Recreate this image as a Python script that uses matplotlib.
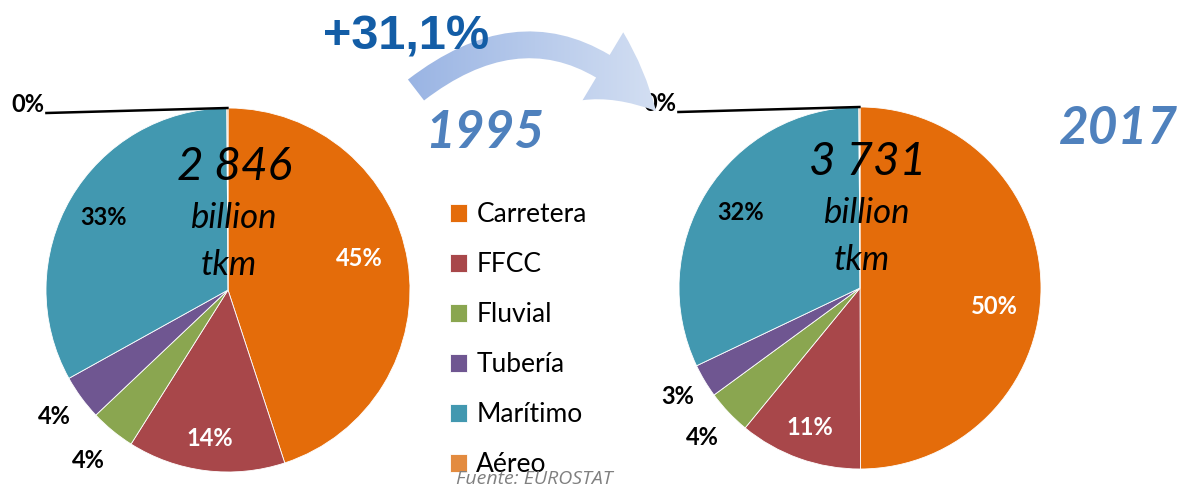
import numpy as np
import matplotlib.pyplot as plt
from matplotlib.patches import FancyArrowPatch

# data
modes = ["Carretera", "FFCC", "Fluvial", "Tubería", "Marítimo", "Aéreo"]
share_1995 = [45, 14, 4, 4, 33, 0.1]
share_2017 = [50, 11, 4, 3, 32, 0.1]
total_1995 = "2 846"
total_2017 = "3 731"
growth = "+31,1%"
source = "Fuente: EUROSTAT"

colors = ["#e46c0a", "#a8474a", "#8aa650", "#6f5691", "#4298b0", "#e38b3f"]
year_color = "#4f81bd"

W, H = 1178, 486
plt.rcParams["font.family"] = ["Lato", "DejaVu Sans"]

fig = plt.figure(figsize=(W / 100, H / 100), dpi=100)
ax = fig.add_axes([0, 0, 1, 1])


def draw_pie(values, center, radius, label_r, label_shift, label_col):
    wedges, _ = ax.pie(values, colors=colors, startangle=90, counterclock=False,
                       center=center, radius=radius,
                       wedgeprops=dict(edgecolor="white", linewidth=0.6))
    for w, v, r, s, c in zip(wedges, values, label_r, label_shift, label_col):
        if r is None:
            continue
        ang = np.deg2rad((w.theta1 + w.theta2) / 2 + s)
        ax.text(center[0] + r * radius * np.cos(ang),
                center[1] + r * radius * np.sin(ang),
                f"{v:.0f}%", ha="center", va="center", fontsize=17,
                fontweight="bold", color=c)
    # leader to the tiny "Aéreo" slice
    w = wedges[-1]
    ang = np.deg2rad((w.theta1 + w.theta2) / 2)
    px, py = center[0] + radius * np.cos(ang), center[1] + radius * np.sin(ang)
    ax.plot([px - 181, px], [py - 5, py], color="black", lw=1.8, zorder=3)
    ax.text(px - 183, py + 4, f"{values[-1]:.0f}%", ha="right", va="center",
            fontsize=17, fontweight="bold", color="black")
    return wedges


lab_col = ["white", "white", "black", "black", "black", None]
c1 = (228, H - 290)
c2 = (860, H - 288)
wedges = draw_pie(share_1995, c1, 182, [0.74, 0.82, 1.21, 1.18, 0.79, None],
                  [4.5, 0, 0, 0, 0, 0], lab_col)
draw_pie(share_2017, c2, 181, [0.75, 0.82, 1.2, 1.17, 0.78, None],
         [-8, 0, 0, 0, 0, 0], lab_col)

# totals in the middle of each pie
for (x, y), tot in [((235, H - 167), total_1995), ((868, H - 162), total_2017)]:
    ax.text(x, y, tot, ha="center", va="center", fontsize=33, style="italic", color="black")
    ax.text(x - 1, y - 51, "billion", ha="center", va="center", fontsize=25,
            style="italic", color="black")
    ax.text(x - 6, y - 98, "tkm", ha="center", va="center", fontsize=25,
            style="italic", color="black")

ax.text(485, H - 133, "1995", ha="center", va="center", fontsize=37,
        fontweight="bold", style="italic", color=year_color)
ax.text(1118, H - 130, "2017", ha="center", va="center", fontsize=37,
        fontweight="bold", style="italic", color=year_color)

# curved arrow with gradient fill
arrow = FancyArrowPatch((416, H - 90), (656, H - 111),
                        connectionstyle="arc3,rad=-0.46",
                        arrowstyle="simple,head_length=50,head_width=57,tail_width=19",
                        mutation_scale=1, shrinkA=0, shrinkB=0,
                        facecolor="none", edgecolor="none", zorder=5)
ax.add_patch(arrow)
grad = np.linspace(0, 1, 256).reshape(1, -1)
cmap = plt.matplotlib.colors.LinearSegmentedColormap.from_list("arr", ["#98b3e3", "#d6e1f3"])
im = ax.imshow(grad, cmap=cmap, extent=(400, 670, H - 125, H - 20),
               aspect="auto", interpolation="bicubic", zorder=5)
im.set_clip_path(arrow)

ax.text(406, H - 37, growth, ha="center", va="center", fontsize=35,
        fontweight="bold", color="#135da6", family="Liberation Sans", zorder=6)

fig.legend(wedges, modes, loc="upper left", bbox_to_anchor=(450 / W, 1 - 202 / H),
           frameon=False, fontsize=19, handlelength=0.65, handleheight=0.65,
           handletextpad=0.35, labelspacing=0.95, borderpad=0, borderaxespad=0)

fig.text(534 / W, 1 - 479 / H, source, ha="center", va="center", fontsize=14,
         style="italic", color="#808080", family="Open Sans", zorder=10)

ax.set_xlim(0, W)
ax.set_ylim(0, H)
ax.set_aspect("auto")
ax.axis("off")
fig.savefig("out.png", dpi=100)
